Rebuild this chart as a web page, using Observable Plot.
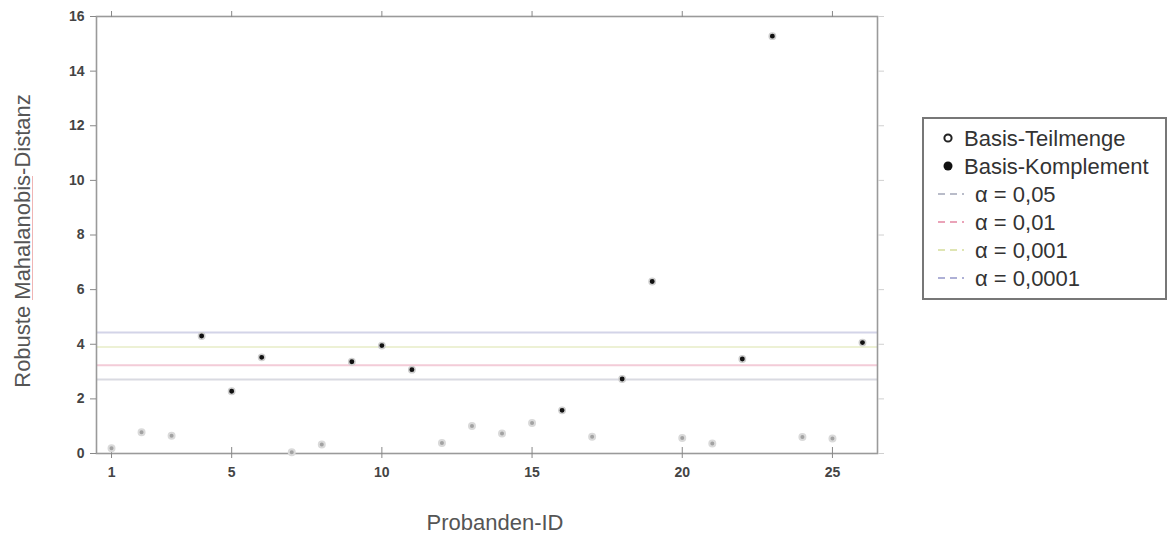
<!DOCTYPE html>
<html>
<head>
<meta charset="utf-8">
<script src="https://cdn.jsdelivr.net/npm/d3@7"></script>
<script src="https://cdn.jsdelivr.net/npm/@observablehq/plot@0.6"></script>
<style>
  html, body { margin: 0; padding: 0; background: #fff; }
  #wrap { position: relative; width: 1169px; height: 540px; font-family: "Liberation Sans", Arial, sans-serif; }
  #legend { position: absolute; left: 922px; top: 117px; }
  #squiggle { position: absolute; left: 32px; top: 176px; width: 1px; height: 124px; background: rgba(220,90,90,0.45); }
</style>
</head>
<body>
<div id="wrap"><div id="squiggle"></div></div>
<script>
// ---- data ----
const ids = [1,2,3,4,5,6,7,8,9,10,11,12,13,14,15,16,17,18,19,20,21,22,23,24,25,26];
const distances = [0.19,0.78,0.65,4.30,2.28,3.52,0.05,0.33,3.36,3.95,3.07,0.38,1.01,0.73,1.12,1.58,0.61,2.73,6.30,0.57,0.37,3.46,15.28,0.60,0.55,4.06];
const groups = ["T","T","T","K","K","K","T","T","K","K","K","T","T","T","T","K","T","K","K","T","T","K","K","T","T","K"];
const groupNames = {T: "Basis-Teilmenge", K: "Basis-Komplement"};
const alphaLabels = ["α = 0,05", "α = 0,01", "α = 0,001", "α = 0,0001"];
const alphaCutoffs = [2.71, 3.23, 3.90, 4.43];
const alphaColors = ["#b9bcc9", "#eaa3b8", "#dfe5b3", "#aeb0d6"];
const xTicks = [1, 5, 10, 15, 20, 25];
const yTicks = [0, 2, 4, 6, 8, 10, 12, 14, 16];
const xLabel = "Probanden-ID";
const yLabel = "Robuste Mahalanobis-Distanz";

const points = ids.map((id, i) => ({id, d: distances[i], g: groups[i]}));
const cutoffs = alphaCutoffs.map((v, i) => ({v, c: alphaColors[i], label: alphaLabels[i]}));

const chart = Plot.plot({
  width: 1169,
  height: 540,
  marginLeft: 96,
  marginRight: 292,
  marginTop: 16,
  marginBottom: 87,
  style: {fontFamily: "'Liberation Sans', Arial, sans-serif", background: "transparent"},
  x: {domain: [0.5, 26.5]},
  y: {domain: [0, 16]},
  marks: [
    Plot.ruleY(cutoffs, {y: "v", stroke: "c", strokeWidth: 2, strokeOpacity: 0.55}),
    Plot.frame({stroke: "#9a9a9a", strokeWidth: 1.6}),
    Plot.axisY({ticks: yTicks, tickSize: 6, tickPadding: 6, fontSize: 14, fontWeight: "bold", label: null, stroke: "#888", fill: "#444"}),
    Plot.axisY({anchor: "right", ticks: yTicks, tickSize: 6, tickFormat: () => "", label: null, stroke: "#d0d0d0"}),
    Plot.axisX({ticks: xTicks, tickSize: 5, tickPadding: 9, fontSize: 14, fontWeight: "bold", label: null, stroke: "#888", fill: "#444"}),
    Plot.axisX({ticks: xTicks, tickSize: -6, tickFormat: () => "", label: null, stroke: "#888"}),
    Plot.axisX({anchor: "top", ticks: xTicks, tickSize: 6, tickFormat: () => "", label: null, stroke: "#888"}),
    Plot.dot(points.filter(p => p.g === "T"), {x: "id", y: "d", r: 3, fill: "#a2a2a2", stroke: "#dadada", strokeWidth: 2}),
    Plot.dot(points.filter(p => p.g === "K"), {x: "id", y: "d", r: 3.2, fill: "#111", stroke: "#cfcfcf", strokeWidth: 1.5}),
    Plot.text([yLabel], {frameAnchor: "left", textAnchor: "middle", dx: -74, dy: 6, rotate: -90, text: d => d, fontSize: 22, fill: "#555"}),
    Plot.text([xLabel], {frameAnchor: "bottom", textAnchor: "middle", dx: 8, dy: 76, text: d => d, fontSize: 22, fill: "#555"})
  ]
});
document.getElementById("wrap").prepend(chart);

// ---- legend (right side) ----
const lw = 246, lh = 184, rowH = 28, firstY = 21;
const legend = d3.create("svg").attr("id", "legend").attr("width", lw).attr("height", lh)
  .style("font-family", "'Liberation Sans', Arial, sans-serif");
legend.append("rect").attr("x", 1).attr("y", 1).attr("width", lw - 3).attr("height", lh - 3)
  .attr("fill", "#fff").attr("stroke", "#777").attr("stroke-width", 2);
const entries = [
  {type: "open", label: groupNames.T},
  {type: "filled", label: groupNames.K},
  ...cutoffs.map(c => ({type: "line", color: c.c, label: c.label}))
];
entries.forEach((e, i) => {
  const cy = firstY + i * rowH;
  if (e.type === "open") {
    legend.append("circle").attr("cx", 26).attr("cy", cy).attr("r", 3.6).attr("fill", "none").attr("stroke", "#222").attr("stroke-width", 2);
  } else if (e.type === "filled") {
    legend.append("circle").attr("cx", 26).attr("cy", cy).attr("r", 4.5).attr("fill", "#111");
  } else {
    legend.append("line").attr("x1", 16).attr("x2", 42).attr("y1", cy).attr("y2", cy)
      .attr("stroke", e.color).attr("stroke-width", 2.2).attr("stroke-dasharray", "7,5");
  }
  legend.append("text").attr("x", e.type === "line" ? 53 : 42).attr("y", cy).attr("dy", "0.35em")
    .attr("font-size", 22).attr("fill", "#333").text(e.label);
});
document.getElementById("wrap").appendChild(legend.node());
</script>
</body>
</html>
